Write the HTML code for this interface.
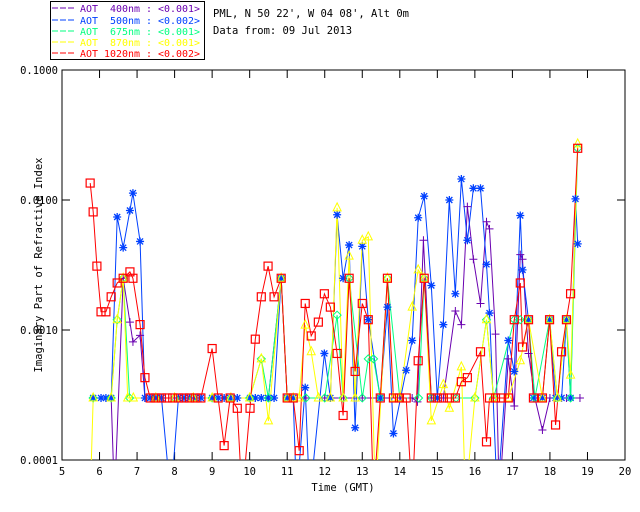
<!DOCTYPE html>
<html><head><meta charset="utf-8"><style>
html,body{margin:0;padding:0;background:#fff;}
svg{display:block;font-family:"DejaVu Sans Mono","Liberation Mono",monospace;}
</style></head><body>
<svg id="chart" width="640" height="512" viewBox="0 0 640 512" xmlns="http://www.w3.org/2000/svg">
<rect width="640" height="512" fill="#fff"/>
<defs><clipPath id="pc"><rect x="62" y="70" width="563" height="390"/></clipPath></defs>
<g font-size="9.8">
<rect x="50.5" y="1.5" width="154" height="58" fill="none" stroke="#000"/>
<g><line x1="52" y1="8" x2="74" y2="8" stroke="#6a00b0" stroke-dasharray="6,2"/><text x="80" y="12" fill="#6a00b0" textLength="120" lengthAdjust="spacingAndGlyphs" xml:space="preserve">AOT  400nm : &lt;0.001&gt;</text></g>
<g><line x1="52" y1="20" x2="74" y2="20" stroke="#0040ff" stroke-dasharray="6,2"/><text x="80" y="24" fill="#0040ff" textLength="120" lengthAdjust="spacingAndGlyphs" xml:space="preserve">AOT  500nm : &lt;0.002&gt;</text></g>
<g><line x1="52" y1="31" x2="74" y2="31" stroke="#00ff80" stroke-dasharray="6,2"/><text x="80" y="35" fill="#00ff80" textLength="120" lengthAdjust="spacingAndGlyphs" xml:space="preserve">AOT  675nm : &lt;0.001&gt;</text></g>
<g><line x1="52" y1="42" x2="74" y2="42" stroke="#ffff00" stroke-dasharray="6,2"/><text x="80" y="46" fill="#ffff00" textLength="120" lengthAdjust="spacingAndGlyphs" xml:space="preserve">AOT  870nm : &lt;0.001&gt;</text></g>
<g><line x1="52" y1="53" x2="74" y2="53" stroke="#ff0000" stroke-dasharray="6,2"/><text x="80" y="57" fill="#ff0000" textLength="120" lengthAdjust="spacingAndGlyphs" xml:space="preserve">AOT 1020nm : &lt;0.002&gt;</text></g>
</g>
<text x="213" y="17" font-size="10.5" fill="#000">PML, N 50 22', W 04 08', Alt 0m</text>
<text x="213" y="34" font-size="10.5" fill="#000">Data from: 09 Jul 2013</text>
<rect x="62" y="70" width="563" height="390" fill="none" stroke="#000"/>
<g id="axes" font-size="10.5"></g>
<text x="343" y="491" font-size="10.5" text-anchor="middle">Time (GMT)</text>
<text transform="translate(42,265) rotate(-90)" font-size="10.5" text-anchor="middle">Imaginary Part of Refractive Index</text>
<g id="series" clip-path="url(#pc)"></g>
<g id="marks"></g>
</svg>
<script>
const xTicks=[5,6,7,8,9,10,11,12,13,14,15,16,17,18,19,20];
const yTicks=[0.1,0.01,0.001,0.0001];
const yTickLabels=["0.1000","0.0100","0.0010","0.0001"];
const t400=[5.83,6.04,6.31,6.4,6.63,6.81,6.89,7.08,7.21,7.5,8.0,8.5,9.0,9.5,10.0,10.5,10.84,11.0,11.5,12.0,12.5,13.0,13.5,14.0,14.33,14.47,14.63,14.84,15.16,15.48,15.64,15.8,15.96,16.15,16.31,16.39,16.55,16.65,16.89,17.05,17.21,17.27,17.43,17.6,17.8,18.0,18.44,18.8];
const v400=[0.0003,0.0003,0.0003,0.00005,0.0025,0.00115,0.00081,0.00091,0.0003,0.0003,0.0003,0.0003,0.0003,0.0003,0.0003,0.0003,0.0025,0.0003,0.0003,0.0003,0.0003,0.0003,0.0003,0.0003,0.0003,0.00028,0.0049,0.0003,0.0003,0.0014,0.0011,0.0089,0.0035,0.0016,0.0068,0.006,0.00093,0.00005,0.0006,0.00026,0.0038,0.0035,0.00066,0.0003,0.00017,0.0003,0.0003,0.0003];
const t500=[5.83,6.04,6.17,6.31,6.47,6.63,6.81,6.89,7.08,7.21,7.35,7.5,7.65,7.9,8.1,8.25,8.4,8.55,8.7,9.0,9.16,9.32,9.48,9.67,10.01,10.15,10.31,10.49,10.65,10.84,11.0,11.16,11.25,11.48,11.6,11.99,12.15,12.33,12.49,12.65,12.81,13.0,13.16,13.48,13.67,13.83,14.17,14.33,14.49,14.65,14.84,15.0,15.16,15.32,15.48,15.64,15.8,15.96,16.15,16.31,16.39,16.6,16.89,17.05,17.21,17.27,17.43,17.56,17.8,17.99,18.15,18.31,18.44,18.55,18.68,18.74];
const v500=[0.0003,0.0003,0.0003,0.0003,0.0074,0.0043,0.0083,0.0113,0.0048,0.0003,0.0003,0.0003,0.0003,0.00005,0.0003,0.0003,0.0003,0.0003,0.0003,0.0003,0.0003,0.0003,0.0003,0.0003,0.0003,0.0003,0.0003,0.0003,0.0003,0.0025,0.0003,0.0003,0.00005,0.00036,0.00005,0.00066,0.0003,0.0077,0.0025,0.0045,0.000177,0.0044,0.0012,0.0003,0.0015,0.00016,0.00049,0.00083,0.0073,0.0107,0.0022,0.0003,0.0011,0.0100,0.0019,0.0145,0.0049,0.0123,0.0123,0.0032,0.00135,0.00005,0.00083,0.00048,0.0076,0.0029,0.0012,0.0003,0.0003,0.0012,0.0003,0.0003,0.0012,0.0003,0.0102,0.0046];
const t675=[5.83,6.31,6.47,6.63,6.8,7.5,8.0,8.5,9.0,9.5,10.0,10.31,10.5,10.84,11.0,11.5,12.0,12.33,12.49,12.65,13.0,13.16,13.3,13.48,13.67,14.0,14.5,14.65,14.84,15.5,16.0,16.31,16.5,17.05,17.21,17.43,17.6,17.99,18.2,18.44,18.55,18.74];
const v675=[0.0003,0.0003,0.0012,0.0025,0.0003,0.0003,0.0003,0.0003,0.0003,0.0003,0.0003,0.0006,0.0003,0.0025,0.0003,0.0003,0.0003,0.0013,0.0003,0.0025,0.0003,0.0006,0.0006,0.0003,0.0025,0.0003,0.0003,0.0025,0.0003,0.0003,0.0003,0.0012,0.0003,0.0012,0.0012,0.0012,0.0003,0.0012,0.0003,0.0012,0.0003,0.025];
const t870=[5.75,5.83,6.31,6.47,6.63,6.75,6.9,7.5,8.0,8.5,9.0,9.5,10.0,10.31,10.5,10.84,11.0,11.16,11.32,11.48,11.64,11.83,12.15,12.33,12.49,12.65,12.81,13.0,13.16,13.35,13.67,13.83,14.0,14.33,14.49,14.65,14.84,15.16,15.32,15.64,15.75,16.0,16.31,16.5,16.89,17.21,17.43,17.8,17.99,18.2,18.44,18.55,18.74];
const v870=[0.00005,0.0003,0.0003,0.0012,0.0025,0.0003,0.0003,0.0003,0.0003,0.0003,0.0003,0.0003,0.0003,0.0006,0.0002,0.0025,0.0003,0.0003,0.0003,0.00109,0.00068,0.0003,0.0003,0.0087,0.0003,0.0037,0.0003,0.0049,0.0052,0.00005,0.0025,0.0003,0.0003,0.0015,0.0029,0.0025,0.0002,0.00038,0.00025,0.00052,0.00005,0.0003,0.0012,0.0003,0.0003,0.00058,0.0012,0.0003,0.0012,0.0003,0.0012,0.00045,0.027];
const t1020=[5.75,5.83,5.93,6.04,6.17,6.31,6.47,6.63,6.81,6.89,7.08,7.21,7.35,7.5,7.65,7.8,7.95,8.1,8.25,8.4,8.55,8.7,9.0,9.16,9.32,9.48,9.67,9.8,10.01,10.15,10.31,10.49,10.65,10.84,11.0,11.16,11.32,11.48,11.64,11.83,11.99,12.15,12.33,12.49,12.65,12.81,13.0,13.16,13.3,13.48,13.67,13.83,13.99,14.17,14.33,14.49,14.65,14.84,15.0,15.16,15.32,15.48,15.64,15.8,16.15,16.31,16.39,16.55,16.71,16.89,17.05,17.21,17.27,17.43,17.56,17.8,17.99,18.15,18.31,18.44,18.55,18.74];
const v1020=[0.0135,0.0081,0.0031,0.00138,0.00138,0.0018,0.0023,0.0025,0.0028,0.0025,0.0011,0.00043,0.0003,0.0003,0.0003,0.0003,0.0003,0.0003,0.0003,0.0003,0.0003,0.0003,0.00072,0.0003,0.000129,0.0003,0.00025,0.00005,0.00025,0.00085,0.0018,0.0031,0.0018,0.0025,0.0003,0.0003,0.000118,0.0016,0.0009,0.00115,0.0019,0.0015,0.00066,0.00022,0.0025,0.00048,0.0016,0.0012,0.00005,0.0003,0.0025,0.0003,0.0003,0.0003,0.00005,0.00058,0.0025,0.0003,0.0003,0.0003,0.0003,0.0003,0.0004,0.00043,0.00068,0.000138,0.0003,0.0003,0.0003,0.0003,0.0012,0.0023,0.00074,0.0012,0.0003,0.0003,0.0012,0.000186,0.00068,0.0012,0.0019,0.025];

const NS="http://www.w3.org/2000/svg";
const X0=62,X1=625,Y0=70,Y1=460;
function xs(t){return X0+(t-5)/15*(X1-X0);}
function ys(v){return Y0+(-1-Math.log10(v))/3*(Y1-Y0);}
function mk(tag,at,parent){const e=document.createElementNS(NS,tag);for(const k in at)e.setAttribute(k,at[k]);parent.appendChild(e);return e;}
const axes=document.getElementById('axes');
xTicks.forEach(function(t){
  const g=mk('g',{},axes);
  
  
  mk('line',{x1:xs(t),x2:xs(t),y1:Y1,y2:Y1-8,stroke:'#000'},g);
  mk('line',{x1:xs(t),x2:xs(t),y1:Y0,y2:Y0+8,stroke:'#000'},g);
  const tx=mk('text',{x:xs(t),y:Y1+15,'text-anchor':'middle'},g);tx.textContent=t;
});
yTicks.forEach(function(v,i){
  const g=mk('g',{},axes);
  
  
  mk('line',{x1:X0,x2:X0+8,y1:ys(v),y2:ys(v),stroke:'#000'},g);
  mk('line',{x1:X1,x2:X1-8,y1:ys(v),y2:ys(v),stroke:'#000'},g);
  const tx=mk('text',{x:X0-4,y:ys(v)+4,'text-anchor':'end'},g);tx.textContent=yTickLabels[i];
});
const seriesG=document.getElementById('series'),marksG=document.getElementById('marks');
function marker(type,x,y,c,g){
  if(type==='plus'){mk('path',{d:`M${x-4} ${y}H${x+4}M${x} ${y-4}V${y+4}`,stroke:c,fill:'none'},g);}
  else if(type==='star'){mk('path',{d:`M${x-4} ${y}H${x+4}M${x} ${y-4}V${y+4}M${x-3} ${y-3}L${x+3} ${y+3}M${x-3} ${y+3}L${x+3} ${y-3}`,stroke:c,'stroke-width':1.3,fill:'none'},g);}
  else if(type==='diamond'){mk('path',{d:`M${x} ${y-4}L${x+4} ${y}L${x} ${y+4}L${x-4} ${y}Z`,stroke:c,fill:'none'},g);}
  else if(type==='tri'){mk('path',{d:`M${x} ${y-5}L${x+4} ${y+3}L${x-4} ${y+3}Z`,stroke:c,fill:'none'},g);}
  else {mk('rect',{x:x-4,y:y-4,width:8,height:8,stroke:c,fill:'none','stroke-width':1.2},g);}
}
function draw(ts,vs,c,type,name){
  const d=ts.map(function(t,i){return (i?'L':'M')+xs(t).toFixed(1)+' '+ys(vs[i]).toFixed(1);}).join('');
  const p=mk('path',{d:d,stroke:c,fill:'none','stroke-width':1},seriesG);
  
  
  const g=mk('g',{},marksG);
  
  
  ts.forEach(function(t,i){const y=ys(vs[i]);if(y>=Y0-2&&y<=Y1-2)marker(type,xs(t),y,c,g);});
}
draw(t400,v400,'#6a00b0','plus','aot-400nm');
draw(t500,v500,'#0040ff','star','aot-500nm');
draw(t675,v675,'#00ff80','diamond','aot-675nm');
draw(t870,v870,'#ffff00','tri','aot-870nm');
draw(t1020,v1020,'#ff0000','square','aot-1020nm');
</script>
</body></html>
